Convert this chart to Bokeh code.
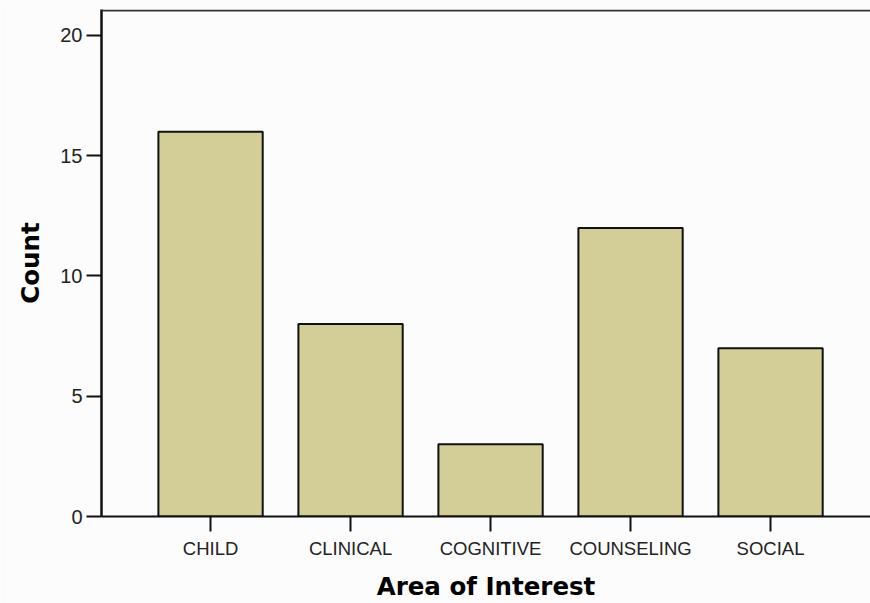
from bokeh.plotting import figure
from bokeh.models import Range1d, FixedTicker, Span, ColumnDataSource
from bokeh.embed import file_html
from bokeh.resources import INLINE

categories = ["CHILD", "CLINICAL", "COGNITIVE", "COUNSELING", "SOCIAL"]
counts = [16, 8, 3, 12, 7]
y_ticks = [0, 5, 10, 15, 20]
x_title = "Area of Interest"
y_title = "Count"

positions = list(range(len(categories)))
src = ColumnDataSource(dict(x=positions, top=counts, cat=categories))

BG = "#FCFCFC"
p = figure(width=870, height=603, output_backend="svg", toolbar_location=None,
           x_range=Range1d(-0.779, 4.714), y_range=Range1d(0, 21.08),
           min_border_left=101, min_border_top=9, min_border_right=0, min_border_bottom=86,
           background_fill_color=BG, border_fill_color=BG)
p.outline_line_color = None
p.grid.visible = False

p.vbar(x="x", top="top", width=0.745, source=src, fill_color="#D3CE97",
       line_color="#111111", line_width=2)

top_line = Span(location=21.04, dimension="width", line_color="#333333", line_width=2)
p.add_layout(top_line)

xa = p.xaxis[0]
xa.ticker = FixedTicker(ticks=positions)
xa.major_label_overrides = {i: c for i, c in zip(positions, categories)}
xa.major_tick_out = 15
xa.major_tick_in = 0
xa.minor_tick_line_color = None
xa.axis_line_width = 2
xa.major_tick_line_width = 2
xa.axis_line_color = "#111111"
xa.major_tick_line_color = "#111111"
xa.major_label_text_font = "Liberation Sans"
xa.major_label_text_font_size = "18.5px"
xa.major_label_text_color = "#222222"
xa.major_label_standoff = 6
xa.axis_label = x_title
xa.axis_label_text_font = "DejaVu Sans"
xa.axis_label_text_font_style = "bold"
xa.axis_label_text_font_size = "24.5px"
xa.axis_label_text_color = "#000000"
xa.axis_label_standoff = 10

ya = p.yaxis[0]
ya.ticker = FixedTicker(ticks=y_ticks)
ya.major_tick_out = 15
ya.major_tick_in = 0
ya.minor_tick_line_color = None
ya.axis_line_width = 2.5
ya.major_tick_line_width = 2
ya.axis_line_color = "#111111"
ya.major_tick_line_color = "#111111"
ya.major_label_text_font = "Liberation Sans"
ya.major_label_text_font_size = "20px"
ya.major_label_text_color = "#222222"
ya.major_label_standoff = 4
ya.axis_label = y_title
ya.axis_label_text_font = "DejaVu Sans"
ya.axis_label_text_font_style = "bold"
ya.axis_label_text_font_size = "24.5px"
ya.axis_label_text_color = "#000000"
ya.axis_label_standoff = 12

open("out.html", "w").write(file_html(p, INLINE))
